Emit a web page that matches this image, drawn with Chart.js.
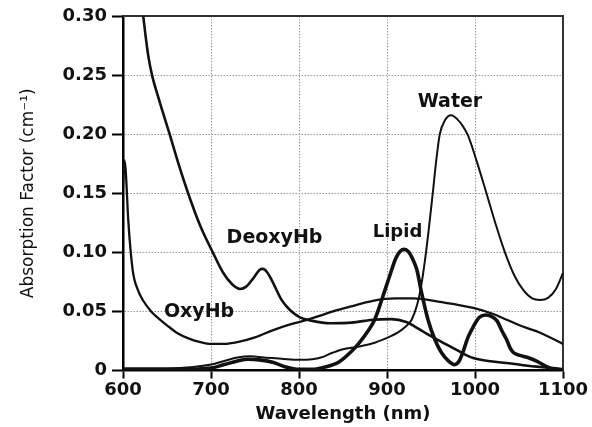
<!DOCTYPE html>
<html>
<head>
<meta charset="utf-8">
<script src="https://cdn.jsdelivr.net/npm/chart.js@4"></script>
<style>
  body { margin: 0; background: #fff; }
  canvas { display: block; }
</style>
</head>
<body>
<canvas id="chart" width="592" height="427"></canvas>
<script>
// values (wavelength in nm, absorption in cm^-1)
const xTicks = [600, 700, 800, 900, 1000, 1100];
const yTicks = [0, 0.05, 0.10, 0.15, 0.20, 0.25, 0.30];

const deoxyNm  = [618, 623, 626, 629, 633, 641, 653, 663, 674, 688, 702, 714, 724, 733, 740, 748, 755, 759, 764, 770, 780, 790, 801, 815, 835, 860, 884, 905, 922, 932, 941, 950, 960, 970, 979, 990, 998, 1015, 1036, 1060, 1074, 1089, 1100];
const deoxyAbs = [0.33, 0.30, 0.281, 0.265, 0.25, 0.229, 0.20, 0.175, 0.15, 0.122, 0.10, 0.0825, 0.073, 0.069, 0.071, 0.078, 0.085, 0.086, 0.083, 0.075, 0.060, 0.051, 0.045, 0.042, 0.040, 0.0405, 0.043, 0.0435, 0.041, 0.037, 0.033, 0.029, 0.025, 0.021, 0.0175, 0.013, 0.0106, 0.008, 0.0064, 0.004, 0.003, 0.002, 0.001];

const oxyNm  = [600, 601.5, 603, 606, 611, 617, 623, 632, 642, 652, 661, 675, 688, 700, 715, 730, 750, 770, 790, 810, 830, 858, 884, 910, 930, 960, 998, 1020, 1036, 1055, 1074, 1100];
const oxyAbs = [0.155, 0.178, 0.17, 0.127, 0.085, 0.068, 0.059, 0.050, 0.043, 0.037, 0.032, 0.027, 0.024, 0.0225, 0.0225, 0.024, 0.028, 0.034, 0.039, 0.043, 0.048, 0.054, 0.059, 0.061, 0.061, 0.058, 0.053, 0.048, 0.043, 0.037, 0.032, 0.0225];

const waterNm  = [600, 650, 680, 700, 715, 730, 745, 760, 780, 800, 815, 825, 838, 850, 866, 884, 898, 912, 921, 928, 934, 938, 944, 952, 956, 960, 966, 973, 980, 986, 992, 1002, 1013, 1023, 1034, 1045, 1055, 1065, 1074, 1083, 1092, 1100];
const waterAbs = [0.002, 0.002, 0.003, 0.005, 0.008, 0.011, 0.012, 0.011, 0.010, 0.009, 0.0095, 0.011, 0.015, 0.018, 0.020, 0.023, 0.027, 0.032, 0.037, 0.043, 0.055, 0.068, 0.098, 0.150, 0.178, 0.200, 0.212, 0.216, 0.2125, 0.207, 0.199, 0.177, 0.150, 0.125, 0.100, 0.080, 0.068, 0.061, 0.0597, 0.0615, 0.069, 0.0825];

const lipidNm  = [600, 650, 680, 700, 715, 730, 742, 755, 770, 785, 800, 815, 830, 845, 858, 868, 878, 886, 895, 903, 910, 915, 920, 925, 930, 934, 939.5, 946.6, 954.5, 962, 970, 977, 982, 986, 992, 998, 1005, 1012, 1018, 1025, 1031, 1036, 1040, 1044, 1050, 1060, 1070, 1082, 1092];
const lipidAbs = [0, 0.0005, 0.001, 0.002, 0.005, 0.008, 0.0095, 0.009, 0.007, 0.003, 0.001, 0.001, 0.003, 0.007, 0.015, 0.023, 0.033, 0.043, 0.062, 0.080, 0.095, 0.101, 0.1025, 0.100, 0.093, 0.085, 0.065, 0.043, 0.026, 0.015, 0.008, 0.005, 0.008, 0.015, 0.028, 0.037, 0.045, 0.047, 0.046, 0.042, 0.033, 0.026, 0.019, 0.015, 0.013, 0.011, 0.008, 0.003, 0];

// curve labels, anchored in data units (text baseline)
const labelText = ['Water', 'DeoxyHb', 'OxyHb', 'Lipid'];
const labelNm   = [971.6, 772.2, 686.4, 911.9];
const labelAbs  = [0.2227, 0.1076, 0.0455, 0.1132];

const pairs = (xs, ys) => xs.map((x, i) => ({ x, y: ys[i] }));

const curve = (label, data, width) => ({
  label,
  data,
  borderColor: '#111',
  borderWidth: width,
  pointRadius: 0,
  fill: false,
  cubicInterpolationMode: 'monotone',
});

const frame = {
  id: 'frame',
  beforeDatasetsDraw(chart) {
    const { ctx, chartArea: a } = chart;
    ctx.save();
    ctx.strokeStyle = '#333';
    ctx.lineWidth = 2;
    ctx.beginPath();
    ctx.moveTo(a.left, a.top);
    ctx.lineTo(a.right, a.top);
    ctx.lineTo(a.right, a.bottom);
    ctx.stroke();
    ctx.restore();
  },
};

const curveLabels = {
  id: 'curveLabels',
  afterDatasetsDraw(chart) {
    const { ctx, scales: { x, y } } = chart;
    ctx.save();
    ctx.fillStyle = '#111';
    ctx.textAlign = 'center';
    ctx.textBaseline = 'alphabetic';
    labelText.forEach((t, i) => {
      ctx.font = (t === 'Lipid' ? 'bold 18px' : 'bold 19px') + ' "DejaVu Sans", sans-serif';
      ctx.fillText(t, x.getPixelForValue(labelNm[i]), y.getPixelForValue(labelAbs[i]));
    });
    ctx.restore();
  },
};

const tickFont = { family: '"DejaVu Sans", sans-serif', size: 18, weight: 'bold' };

new Chart(document.getElementById('chart'), {
  type: 'line',
  plugins: [frame, curveLabels],
  data: {
    datasets: [
      curve('DeoxyHb', pairs(deoxyNm, deoxyAbs), 2.6),
      curve('OxyHb', pairs(oxyNm, oxyAbs), 2.3),
      curve('Water', pairs(waterNm, waterAbs), 2),
      curve('Lipid', pairs(lipidNm, lipidAbs), 3.6),
    ],
  },
  options: {
    responsive: false,
    animation: false,
    layout: { padding: { left: 0, right: 29, top: 16, bottom: 0 } },
    plugins: {
      legend: { display: false },
      tooltip: { enabled: false },
    },
    scales: {
      x: {
        type: 'linear',
        min: 600,
        max: 1100,
        afterBuildTicks: (s) => { s.ticks = xTicks.map(v => ({ value: v })); },
        afterFit: (s) => { s.height = 56.5; },
        ticks: { color: '#111', font: tickFont, padding: 1, maxRotation: 0, callback: (v) => String(v) },
        grid: {
          color: '#999',
          lineWidth: 1,
          tickLength: 8,
          tickColor: '#000',
          tickWidth: 2,
          tickBorderDash: [],
        },
        border: { display: true, color: '#000', width: 2.5, dash: [1.5, 1.5] },
        title: {
          display: true,
          text: 'Wavelength (nm)',
          color: '#111',
          font: tickFont,
          padding: { top: 0, bottom: 2 },
        },
      },
      y: {
        type: 'linear',
        min: 0,
        max: 0.30,
        afterBuildTicks: (s) => { s.ticks = yTicks.map(v => ({ value: v })); },
        afterFit: (s) => { s.width = 123; },
        ticks: {
          color: '#111',
          font: tickFont,
          padding: 5,
          callback: (v) => (v === 0 ? '0' : v.toFixed(2)),
        },
        grid: {
          color: '#999',
          lineWidth: 1,
          tickLength: 11,
          tickColor: '#000',
          tickWidth: 2,
          tickBorderDash: [],
        },
        border: { display: true, color: '#000', width: 2.5, dash: [1.5, 1.5] },
        title: {
          display: true,
          text: 'Absorption Factor (cm\u207B\u00B9)',
          color: '#111',
          font: { family: '"DejaVu Sans", sans-serif', size: 17 },
          padding: { top: 18, bottom: 0 },
        },
      },
    },
  },
});
</script>
</body>
</html>
